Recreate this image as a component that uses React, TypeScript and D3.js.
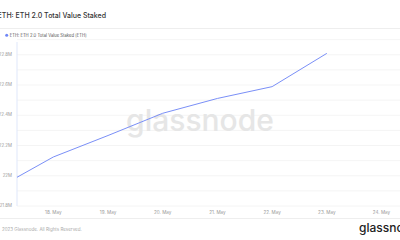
import React from "react";
import * as d3 from "d3";

const dates = ["2023-05-17", "2023-05-18", "2023-05-19", "2023-05-20", "2023-05-21", "2023-05-22", "2023-05-23"];
const staked = [21.922, 22.124, 22.266, 22.413, 22.511, 22.589, 22.809]; // millions ETH
const yTicks = [21.8, 22.0, 22.2, 22.4, 22.6, 22.8];
const yGrid = [21.8, 21.9, 22.0, 22.1, 22.2, 22.3, 22.4, 22.5, 22.6, 22.7, 22.8, 22.9];
const xTickDates = ["2023-05-18", "2023-05-19", "2023-05-20", "2023-05-21", "2023-05-22", "2023-05-23", "2023-05-24"];
const title = "ETH: ETH 2.0 Total Value Staked";
const legendLabel = "ETH: ETH 2.0 Total Value Staked [ETH]";
const footer = "2023 Glassnode. All Rights Reserved.";

const W = 400;
const H = 240;
const FONT = "Inter, 'Noto Sans', sans-serif";

export default function App() {
  const parse = (s: string) => new Date(s + "T00:00:00Z");
  const day = 86400000;
  const x = d3
    .scaleUtc()
    .domain([new Date(parse("2023-05-17").getTime() + 0.336 * day), new Date(parse("2023-05-24").getTime() + 0.338 * day)])
    .range([17, 400]);
  const y = d3.scaleLinear().domain([21.8, 22.9]).range([206, 39.6]);
  const pts = dates.map((d, i) => ({ t: parse(d), v: staked[i] }));
  const line = d3
    .line<{ t: Date; v: number }>()
    .x((d) => x(d.t))
    .y((d) => y(d.v));
  const fmtY = (v: number) => d3.format(".1f")(v).replace(/\.0$/, "") + "M";
  const fmtX = d3.utcFormat("%-d. %b");

  return (
    <svg width={W} height={H} style={{ position: "absolute", left: 0, top: 0, background: "#fff" }}>
      <defs>
        <clipPath id="plot">
          <rect x={17} y={30} width={383} height={180} />
        </clipPath>
      </defs>
      <text x={106} y={18} textAnchor="end" fontFamily={FONT} fontSize={7} fontWeight={500} fill="#333">
        {title}
      </text>
      <line x1={0} x2={W} y1={28.5} y2={28.5} stroke="#eeeeee" />
      <circle cx={6.7} cy={35.3} r={1.5} fill="#6f86f6" />
      <text x={9.7} y={36.8} fontFamily={FONT} fontSize={4.2} fill="#555">
        {legendLabel}
      </text>
      {yGrid.map((g) => (
        <line key={g} x1={17} x2={W} y1={y(g)} y2={y(g)} stroke="#f1f1f1" strokeWidth={0.8} />
      ))}
      <text
        x={200}
        y={131}
        textAnchor="middle"
        fontFamily={FONT}
        fontSize={30}
        fontWeight={500}
        fill="#e6e6e6"
      >
        glassnode
      </text>
      <line x1={17} x2={17} y1={42} y2={206} stroke="#dfe7fa" strokeWidth={1} />
      {yTicks.map((t) => (
        <text key={t} x={12} y={y(t) + 1.2} textAnchor="end" fontFamily={FONT} fontSize={4.4} fill="#999">
          {fmtY(t)}
        </text>
      ))}
      {xTickDates.map((d) => (
        <text key={d} x={x(parse(d))} y={213.5} textAnchor="middle" fontFamily={FONT} fontSize={4.6} fill="#999">
          {fmtX(parse(d))}
        </text>
      ))}
      <g clipPath="url(#plot)">
        <path d={line(pts) || ""} fill="none" stroke="#7a8ff7" strokeWidth={1} />
      </g>
      <line x1={0} x2={W} y1={218.5} y2={218.5} stroke="#eeeeee" />
      <text x={2} y={230.5} fontFamily={FONT} fontSize={4.5} fill="#aaa">
        {footer}
      </text>
      <text x={359} y={232} fontFamily={FONT} fontSize={12} fontWeight={500} fill="#222">
        glassnode
      </text>
    </svg>
  );
}
